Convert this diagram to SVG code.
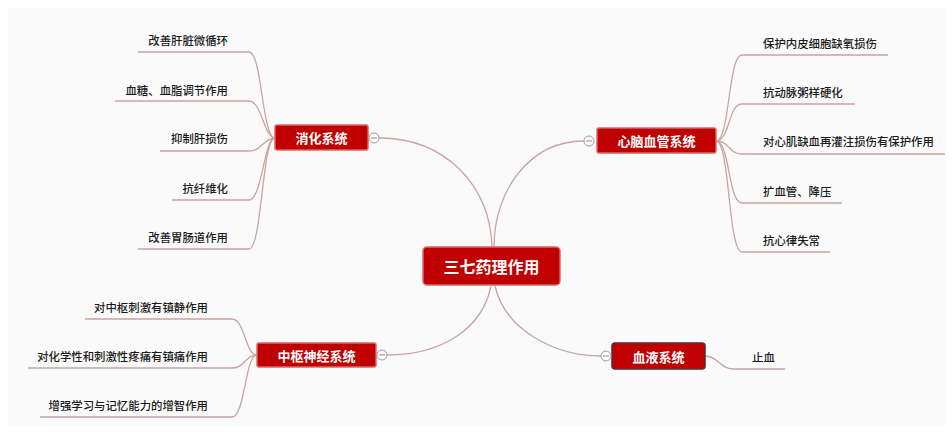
<svg xmlns="http://www.w3.org/2000/svg" width="952" height="432" viewBox="0 0 952 432">
<style>
.bg{fill:#fafafa}
.ln{fill:none;stroke:#c9a3a3;stroke-width:1.3}
.node{fill:#c00000;stroke:#d46a6a;stroke-width:1.5}
.ntx{font-family:"Noto Sans CJK SC","Noto Sans",sans-serif;font-weight:bold;fill:#ffffff;font-size:13px;text-anchor:middle;dominant-baseline:central}
.ctx{font-size:16px}
.leaf{font-family:"Noto Sans CJK SC","Noto Sans",sans-serif;font-size:11.4px;font-weight:500;fill:#1a1a1a;dominant-baseline:central}
.ul{fill:none;stroke:#c9a3a3;stroke-width:1.3}
.col{fill:#ffffff;stroke:#999999;stroke-width:1}
.cm{stroke:#888888;stroke-width:1}
</style>
<rect width="952" height="432" fill="#ffffff"/>
<rect class="bg" x="8" y="8" width="937" height="418"/>
<g id="connectors">
<path class="ln" d="M379,138 C445,138 490,185 492,247"/>
<path class="ln" d="M584,141 C530,141 494,190 494,247"/>
<path class="ln" d="M491,286 C482,330 440,355 387,355"/>
<path class="ln" d="M495,286 C505,330 555,356 601,356"/>
<path class="ul" d="M138,52 H249 C262,52 262,138 275,138"/>
<path class="ul" d="M115,101 H249 C262,101 264,138 275,138"/>
<path class="ul" d="M160,151 H249 C262,151 264,138 275,138"/>
<path class="ul" d="M172,200 H249 C262,200 264,138 275,138"/>
<path class="ul" d="M138,249 H249 C262,249 262,138 275,138"/>
<path class="ul" d="M888,55 H742 C728,55 730,141 716,141"/>
<path class="ul" d="M855,104 H742 C728,104 730,141 716,141"/>
<path class="ul" d="M945,154 H742 C728,154 730,141 716,141"/>
<path class="ul" d="M842,203 H742 C728,203 730,141 716,141"/>
<path class="ul" d="M830,252 H742 C728,252 730,141 716,141"/>
<path class="ul" d="M85,319 H232 C245,319 245,355 257,355"/>
<path class="ul" d="M28,368 H232 C245,368 245,355 257,355"/>
<path class="ul" d="M40,417 H232 C245,417 245,355 257,355"/>
<path class="ul" d="M705,356 C718,356 720,369 733,369 H785"/>
</g>
<g id="root">
<rect class="node" x="423" y="247" width="137" height="38" rx="4"/>
<text class="ntx ctx" x="491.5" y="266">三七药理作用</text>
</g>
<g id="xiaohua">
<rect class="node" x="275" y="125" width="93" height="25" rx="2"/>
<text class="ntx" x="321.5" y="137.5">消化系统</text>
<circle class="col" cx="374" cy="138" r="5"/>
<line class="cm" x1="371" y1="138" x2="377" y2="138"/>
</g>
<g id="xinnao">
<rect class="node" x="597" y="128" width="119" height="25" rx="2"/>
<text class="ntx" x="656.5" y="140.5">心脑血管系统</text>
<circle class="col" cx="589" cy="141" r="5"/>
<line class="cm" x1="586" y1="141" x2="592" y2="141"/>
</g>
<g id="zhongshu">
<rect class="node" x="257" y="343" width="119" height="24" rx="2"/>
<text class="ntx" x="316.5" y="355">中枢神经系统</text>
<circle class="col" cx="382" cy="355" r="5"/>
<line class="cm" x1="379" y1="355" x2="385" y2="355"/>
</g>
<g id="xueye">
<rect x="612" y="343" width="93" height="26" rx="3" fill="#c00000" stroke="#5a2a2a" stroke-width="1.5"/>
<text class="ntx" x="658.5" y="356">血液系统</text>
<circle class="col" cx="606" cy="356" r="5"/>
<line class="cm" x1="603" y1="356" x2="609" y2="356"/>
</g>
<g id="leaves-xiaohua">
<text class="leaf" x="228" y="40" text-anchor="end">改善肝脏微循环</text>
<text class="leaf" x="228" y="90" text-anchor="end">血糖、血脂调节作用</text>
<text class="leaf" x="228" y="138" text-anchor="end">抑制肝损伤</text>
<text class="leaf" x="228" y="188" text-anchor="end">抗纤维化</text>
<text class="leaf" x="228" y="237" text-anchor="end">改善胃肠道作用</text>
</g>
<g id="leaves-xinnao">
<text class="leaf" x="763" y="43">保护内皮细胞缺氧损伤</text>
<text class="leaf" x="763" y="92">抗动脉粥样硬化</text>
<text class="leaf" x="763" y="141">对心肌缺血再灌注损伤有保护作用</text>
<text class="leaf" x="763" y="191">扩血管、降压</text>
<text class="leaf" x="763" y="240">抗心律失常</text>
</g>
<g id="leaves-zhongshu">
<text class="leaf" x="208" y="307" text-anchor="end">对中枢刺激有镇静作用</text>
<text class="leaf" x="208" y="356" text-anchor="end">对化学性和刺激性疼痛有镇痛作用</text>
<text class="leaf" x="208" y="405" text-anchor="end">增强学习与记忆能力的增智作用</text>
</g>
<g id="leaves-xueye">
<text class="leaf" x="752" y="357">止血</text>
</g>
</svg>
